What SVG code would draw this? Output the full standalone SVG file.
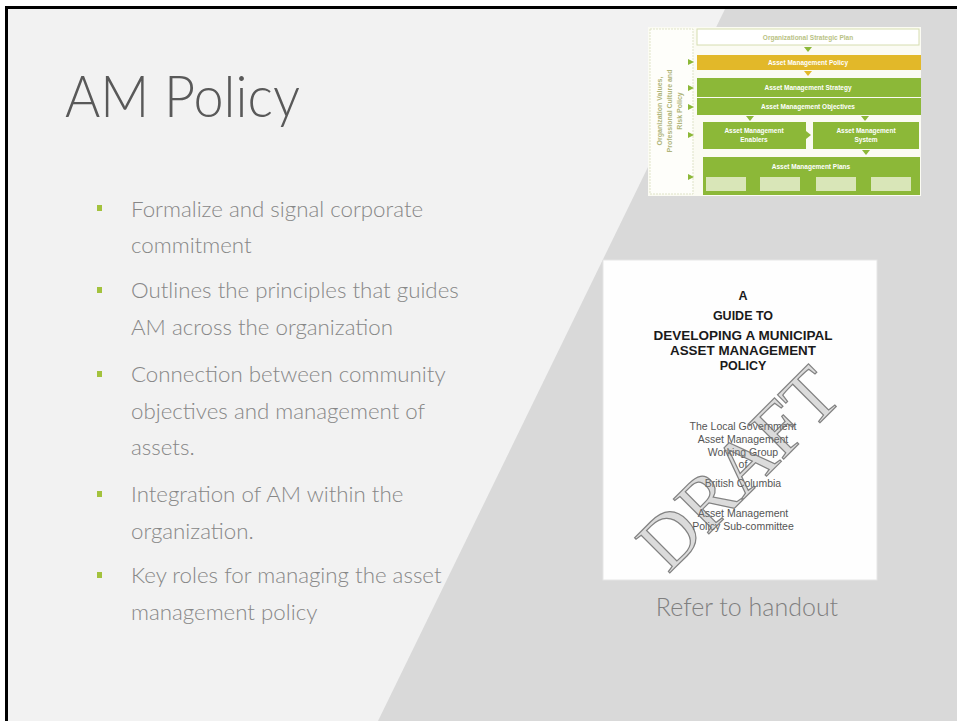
<svg xmlns="http://www.w3.org/2000/svg" width="957" height="721" viewBox="0 0 957 721">
<style>
.body{font-family:Lato,"Liberation Sans",sans-serif;font-weight:300;fill:#878787;font-size:22.3px}
.ch{font-family:"Liberation Sans",Arial,sans-serif;font-weight:bold;fill:#ffffff;font-size:6.5px;text-anchor:middle}
.cv{font-family:"Liberation Sans",Arial,sans-serif;font-weight:bold;fill:#1a1a1a;font-size:12.5px;text-anchor:middle}
.cr{font-family:"Liberation Sans",Arial,sans-serif;fill:#555555;font-size:10.5px;text-anchor:middle}
.bul{fill:#a3c23d}
.g{fill:#8cb838}
.tri{fill:#8cb838}
</style>
<rect x="0" y="0" width="957" height="721" fill="#ffffff"/>
<rect x="6.5" y="7.5" width="960" height="720" fill="#f2f2f2" stroke="#000000" stroke-width="3"/>
<polygon points="725,9 957,9 957,721 378,721" fill="#d9d9d9"/>

<g id="title">
<text x="65" y="117" textLength="235" lengthAdjust="spacingAndGlyphs" style="font-family:Lato,'Liberation Sans',sans-serif;font-weight:300;font-size:58px;fill:#595959">AM Policy</text>
</g>

<g id="bullets">
<rect class="bul" x="97" y="205" width="5" height="6"/>
<text class="body" x="131" y="217">Formalize and signal corporate</text>
<text class="body" x="131" y="253">commitment</text>
<rect class="bul" x="97" y="287" width="5" height="6"/>
<text class="body" x="131" y="298">Outlines the principles that guides</text>
<text class="body" x="131" y="335">AM across the organization</text>
<rect class="bul" x="97" y="371" width="5" height="6"/>
<text class="body" x="131" y="382">Connection between community</text>
<text class="body" x="131" y="419">objectives and management of</text>
<text class="body" x="131" y="455">assets.</text>
<rect class="bul" x="97" y="491" width="5" height="6"/>
<text class="body" x="131" y="502">Integration of AM within the</text>
<text class="body" x="131" y="539">organization.</text>
<rect class="bul" x="97" y="572" width="5" height="6"/>
<text class="body" x="131" y="583">Key roles for managing the asset</text>
<text class="body" x="131" y="620">management policy</text>
</g>

<g id="chart">
<rect x="648" y="27" width="273" height="169" fill="#fbfbf3"/>
<rect x="650" y="29" width="43" height="165" fill="#fefefa" stroke="#dfe3c8" stroke-width="1" stroke-dasharray="2,1"/>
<g transform="translate(671,111) rotate(-90)">
<text class="ch" style="fill:#b0b57a;font-size:7px" x="0" y="-9">Organization Values,</text>
<text class="ch" style="fill:#b0b57a;font-size:7px" x="0" y="1">Professional Culture and</text>
<text class="ch" style="fill:#b0b57a;font-size:7px" x="0" y="11">Risk Policy</text>
</g>
<polygon class="tri" points="688,59 694,62 688,65"/>
<polygon class="tri" points="688,85 694,88 688,91"/>
<polygon class="tri" points="688,104 694,107 688,110"/>
<polygon class="tri" points="688,132 694,135 688,138"/>
<polygon class="tri" points="688,174 694,177 688,180"/>
<rect x="697" y="29" width="222" height="16" fill="#ffffff" stroke="#d6ddb0" stroke-width="1"/>
<text class="ch" style="fill:#b9c284" x="808" y="40">Organizational Strategic Plan</text>
<polygon class="tri" points="804,47 812,47 808,52"/>
<rect x="697" y="55" width="224" height="15" fill="#e2b829"/>
<text class="ch" x="808" y="65">Asset Management Policy</text>
<polygon points="804,71 812,71 808,76" fill="#e2b829"/>
<rect class="g" x="697" y="78" width="224" height="19"/>
<text class="ch" x="808" y="90">Asset Management Strategy</text>
<rect class="g" x="697" y="98" width="224" height="17"/>
<text class="ch" x="808" y="109">Asset Management Objectives</text>
<polygon class="tri" points="746,116 754,116 750,121"/>
<polygon class="tri" points="861,116 869,116 865,121"/>
<rect class="g" x="703" y="122" width="103" height="27"/>
<text class="ch" x="754" y="133">Asset Management</text>
<text class="ch" x="754" y="142">Enablers</text>
<polygon class="tri" points="806,131 811,135 806,139"/>
<rect class="g" x="813" y="122" width="106" height="27"/>
<text class="ch" x="866" y="133">Asset Management</text>
<text class="ch" x="866" y="142">System</text>
<polygon class="tri" points="862,150 870,150 866,155"/>
<rect class="g" x="703" y="157" width="217" height="38"/>
<text class="ch" x="811" y="169">Asset Management Plans</text>
<rect x="706" y="177" width="40" height="14" fill="#d9e6b8"/>
<rect x="760" y="177" width="40" height="14" fill="#d9e6b8"/>
<rect x="816" y="177" width="40" height="14" fill="#d9e6b8"/>
<rect x="871" y="177" width="40" height="14" fill="#d9e6b8"/>
</g>

<g id="cover">
<rect x="603" y="260" width="274" height="320" fill="#fefefe" stroke="#e6e6e6" stroke-width="1"/>
<text class="cv" x="743" y="300">A</text>
<text class="cv" x="743" y="320">GUIDE TO</text>
<text class="cv" x="743" y="340" textLength="179" lengthAdjust="spacingAndGlyphs">DEVELOPING A MUNICIPAL</text>
<text class="cv" x="743" y="355" textLength="146" lengthAdjust="spacingAndGlyphs">ASSET MANAGEMENT</text>
<text class="cv" x="743" y="370">POLICY</text>
<text class="cr" x="743" y="430">The Local Government</text>
<text class="cr" x="743" y="443">Asset Management</text>
<text class="cr" x="743" y="456">Working Group</text>
<text class="cr" x="743" y="468">of</text>
<text class="cr" x="743" y="487">British Columbia</text>
<text class="cr" x="743" y="517">Asset Management</text>
<text class="cr" x="743" y="530">Policy Sub-committee</text>
<text x="0" y="0" dy="26" transform="translate(738,468) rotate(-45)" text-anchor="middle" style="font-family:'Liberation Serif',serif;font-size:76px;fill:#8a8a8a;fill-opacity:0.3;stroke:#6f6f6f;stroke-width:1.2;stroke-opacity:0.85">DRAFT</text>
</g>

<g id="caption">
<text x="747" y="616" text-anchor="middle" style="font-family:Lato,'Liberation Sans',sans-serif;font-weight:300;font-size:25px;fill:#7f7f7f">Refer to handout</text>
</g>
</svg>
